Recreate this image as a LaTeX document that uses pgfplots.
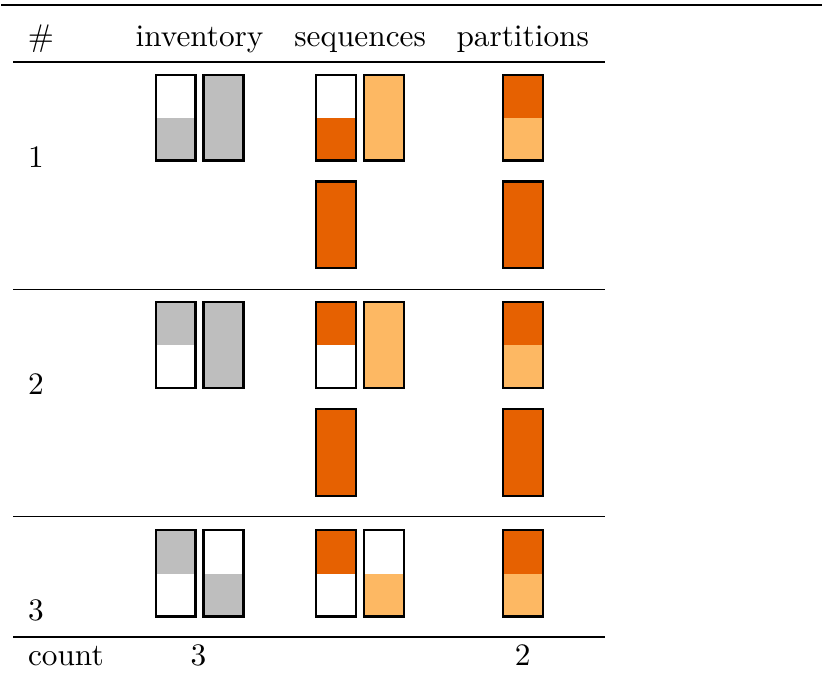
\documentclass[border=0pt]{standalone}
\usepackage{pgfplots}
\pgfplotsset{compat=1.18}

\definecolor{grayfill}{HTML}{BEBEBE}
\definecolor{darkorange}{HTML}{E66101}
\definecolor{lightorange}{HTML}{FDB863}

% one glyph: x0, x1, ytop, ymid, ybot, top colour, bottom colour
\newcommand\glyph[7]{%
  \addplot[draw=none,fill=#6] coordinates {(#1,#3) (#2,#3) (#2,#4) (#1,#4)} -- cycle;
  \addplot[draw=none,fill=#7] coordinates {(#1,#4) (#2,#4) (#2,#5) (#1,#5)} -- cycle;
  \addplot[black,line width=0.75pt] coordinates {(#1,#3) (#2,#3) (#2,#5) (#1,#5)} -- cycle;
}

\begin{document}
\begin{tikzpicture}[every node/.style={font=\fontsize{10.45}{12.5}\selectfont}]
\begin{axis}[
  x=0.3333pt, y=-0.3333pt,
  xmin=0, xmax=823, ymin=0, ymax=673,
  hide axis, clip=false,
  every axis plot/.append style={mark=none}]
  % invisible frame to hold the picture size
  \addplot[draw=none] coordinates {(0,0) (823,673)};

  % rules
  \addplot[black,line width=0.7pt] coordinates {(0,5) (823,5)};
  \addplot[black,line width=0.5pt] coordinates {(12,62) (605,62)};
  \addplot[black,line width=0.5pt] coordinates {(12,290) (605,290)};
  \addplot[black,line width=0.5pt] coordinates {(12,518) (605,518)};
  \addplot[black,line width=0.7pt] coordinates {(12,639) (605,639)};

  % header
  \node[anchor=base] at (axis cs:40,47) {\#};
  \node[anchor=base] at (axis cs:199,47) {inventory};
  \node[anchor=base] at (axis cs:360,47) {sequences};
  \node[anchor=base] at (axis cs:523,47) {partitions};

  % row labels
  \node[anchor=base] at (axis cs:35,168) {1};
  \node[anchor=base] at (axis cs:35,396) {2};
  \node[anchor=base] at (axis cs:35,622) {3};

  % count row
  \node[anchor=base] at (axis cs:65,667) {count};
  \node[anchor=base] at (axis cs:198,667) {3};
  \node[anchor=base] at (axis cs:523,667) {2};

  % row 1
  \glyph{155}{195}{75}{118}{161}{white}{grayfill}
  \glyph{203}{243}{75}{118}{161}{grayfill}{grayfill}
  \glyph{316}{356}{75}{118}{161}{white}{darkorange}
  \glyph{364}{404}{75}{118}{161}{lightorange}{lightorange}
  \glyph{503}{543}{75}{118}{161}{darkorange}{lightorange}
  \glyph{316}{356}{182}{226}{269}{darkorange}{darkorange}
  \glyph{503}{543}{182}{226}{269}{darkorange}{darkorange}

  % row 2
  \glyph{155}{195}{303}{346}{389}{grayfill}{white}
  \glyph{203}{243}{303}{346}{389}{grayfill}{grayfill}
  \glyph{316}{356}{303}{346}{389}{darkorange}{white}
  \glyph{364}{404}{303}{346}{389}{lightorange}{lightorange}
  \glyph{503}{543}{303}{346}{389}{darkorange}{lightorange}
  \glyph{316}{356}{410}{454}{497}{darkorange}{darkorange}
  \glyph{503}{543}{410}{454}{497}{darkorange}{darkorange}

  % row 3
  \glyph{155}{195}{531}{575}{618}{grayfill}{white}
  \glyph{203}{243}{531}{575}{618}{white}{grayfill}
  \glyph{316}{356}{531}{575}{618}{darkorange}{white}
  \glyph{364}{404}{531}{575}{618}{white}{lightorange}
  \glyph{503}{543}{531}{575}{618}{darkorange}{lightorange}
\end{axis}
\end{tikzpicture}
\end{document}
